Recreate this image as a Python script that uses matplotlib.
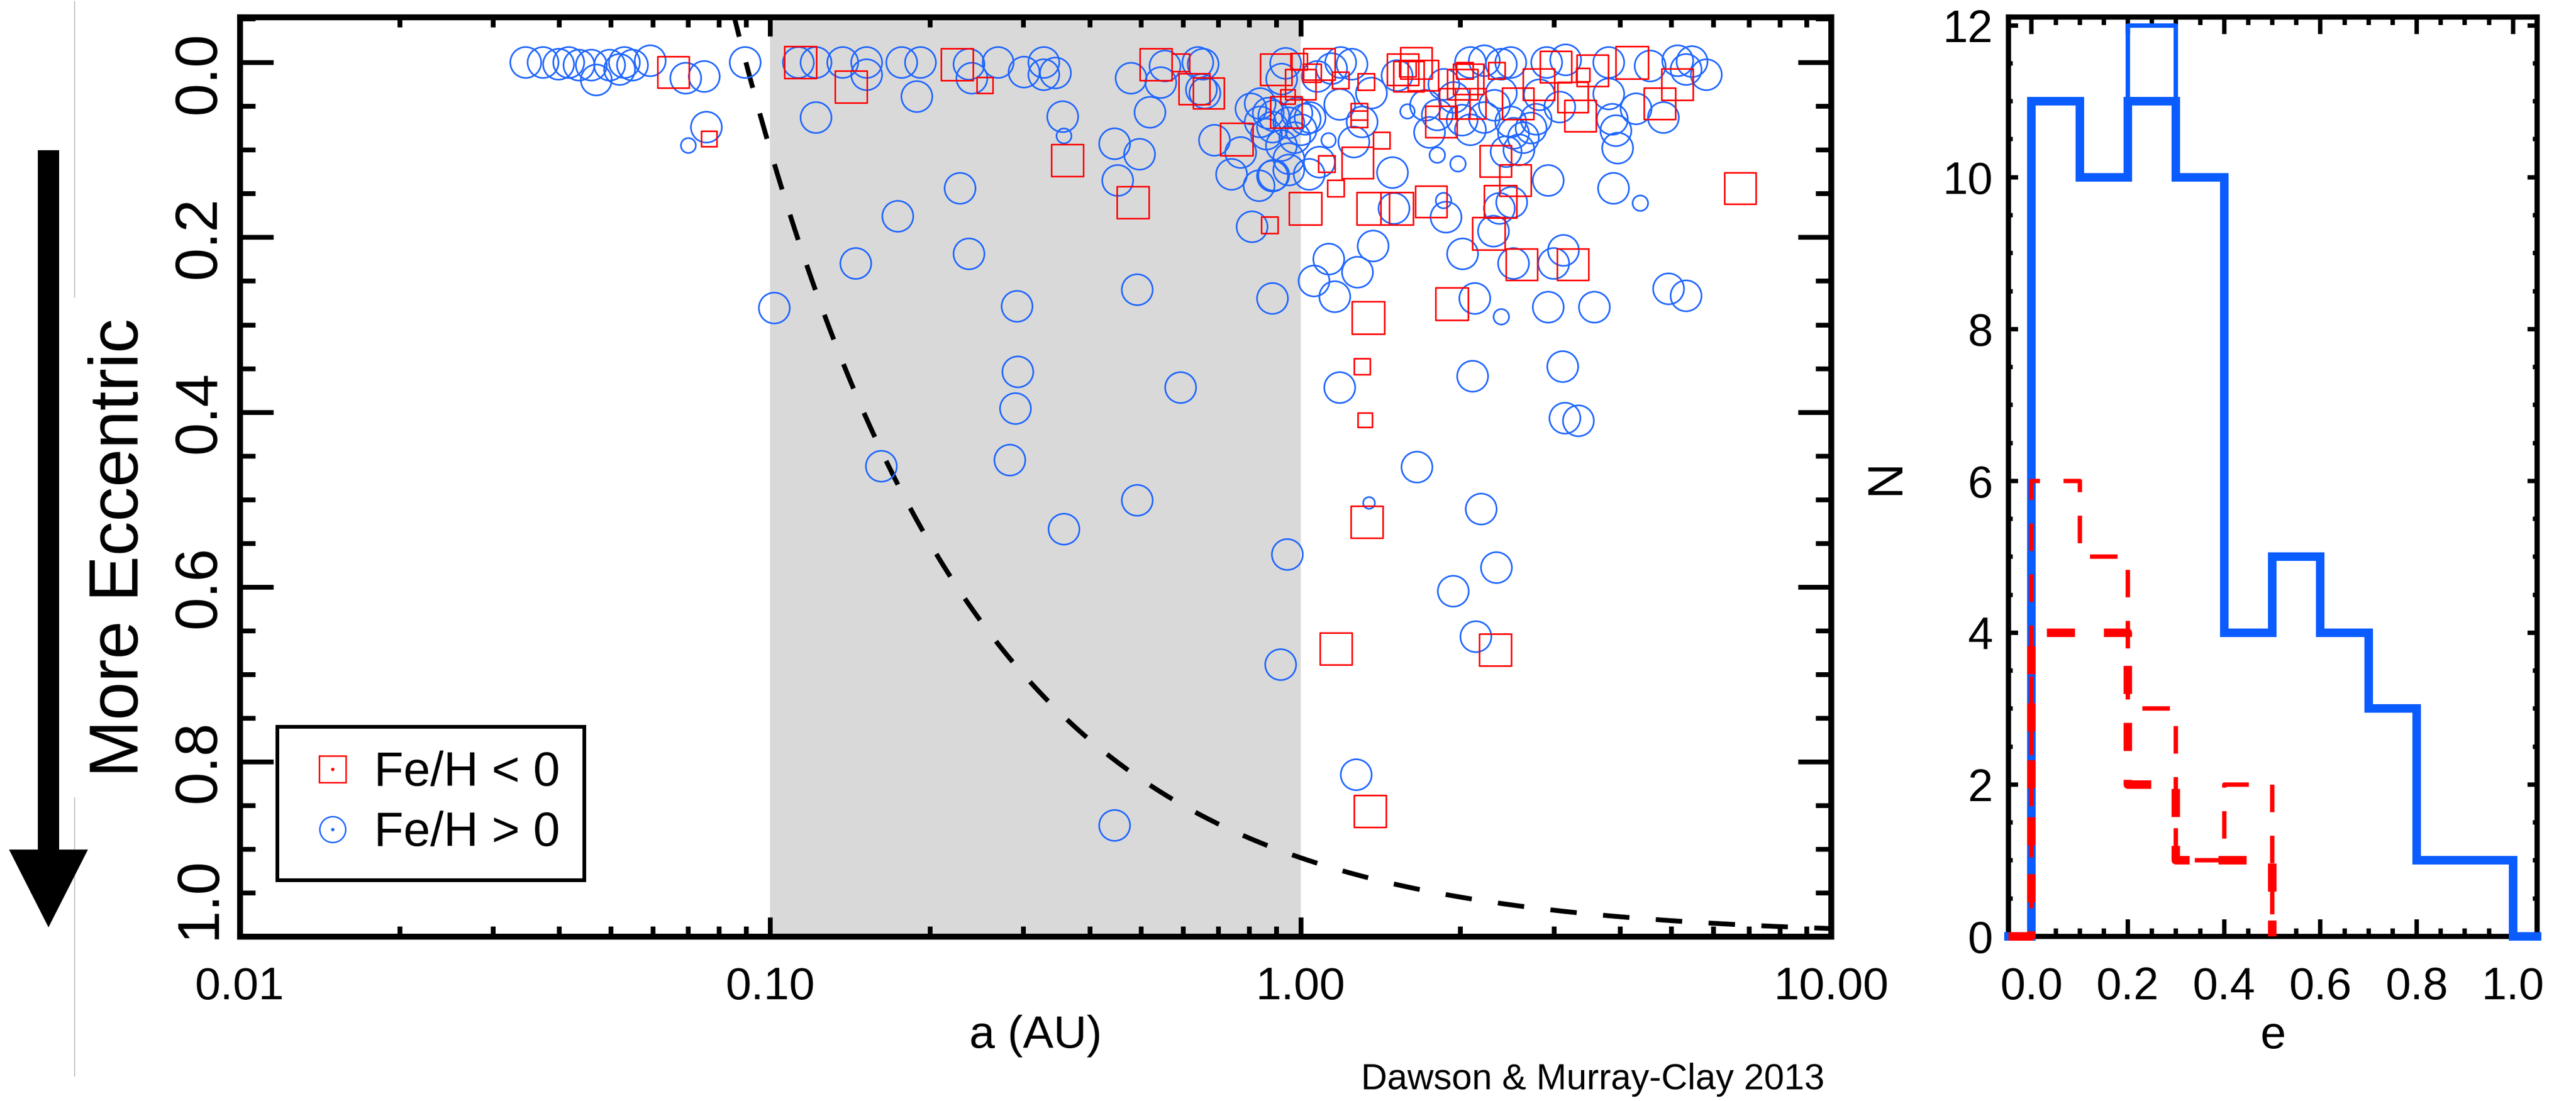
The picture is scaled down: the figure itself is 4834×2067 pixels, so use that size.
import numpy as np
import matplotlib
matplotlib.use("Agg")
import matplotlib.pyplot as plt
from matplotlib.lines import Line2D
from matplotlib.patches import FancyArrow
from matplotlib.ticker import (FixedLocator, FixedFormatter, LogLocator,
                               NullFormatter, MultipleLocator, FormatStrFormatter)

plt.rcParams['font.family'] = ['Liberation Sans', 'DejaVu Sans']

# ------------------------------------------------------------
# data : Fe/H > 0 (blue circles)  -> a [AU], e
# ------------------------------------------------------------
a_hi = [0.0346, 0.0373, 0.0399, 0.0417, 0.0436, 0.0460, 0.0470, 0.0498, 0.0520, 0.0531,
        0.0550, 0.0594, 0.0693, 0.0751, 0.0758, 0.0701, 0.0897,
        0.1018, 0.113, 0.122, 0.137, 0.152, 0.152, 0.122, 0.177, 0.192, 0.189,
        0.237, 0.240, 0.269, 0.301, 0.328, 0.328, 0.345, 0.356, 0.358, 0.446,
        0.497, 0.452, 0.479, 0.555, 0.545, 0.520, 0.228, 0.174, 0.237, 0.145,
        0.292, 0.492, 0.293, 0.290, 0.594, 0.283, 0.162, 0.492, 0.358, 0.446,
        0.640, 0.650, 0.655, 0.660, 0.688, 0.771, 0.741, 0.835, 0.885, 0.950,
        0.806, 0.839, 0.869, 0.839, 0.885, 0.862, 0.937, 0.921, 0.975, 0.810,
        0.885, 0.944, 0.917, 0.890, 0.950, 0.920, 0.950, 0.890,
        0.984, 1.020, 1.002, 1.042, 1.075, 1.144, 1.250, 1.190, 1.185, 1.306,
        1.260, 1.360, 1.038, 1.085, 1.129, 1.520, 1.590, 1.720, 1.750, 1.810,
        1.980, 1.490, 1.500, 1.860, 1.880, 1.370, 1.130, 1.280, 1.060, 1.160,
        2.130, 2.390, 2.020, 2.310, 2.370, 2.440,
        2.090, 2.220, 2.390, 2.490, 1.862, 1.945, 1.810, 2.016, 2.090, 2.220,
        2.320, 2.490, 2.520, 2.390, 2.720, 2.780, 2.630, 2.580, 2.500,
        2.910, 3.160, 3.810, 3.810, 4.560, 5.140, 5.470, 5.330, 5.820, 4.830,
        4.290, 3.870, 3.930, 3.960, 3.080, 2.820, 2.930, 3.890, 4.370, 2.520,
        3.000, 3.130, 2.930, 3.580, 4.940, 5.330,
        1.185, 2.110, 3.120, 3.150, 3.340, 1.657, 1.346, 2.190, 2.340, 1.940,
        2.140, 1.273]
e_hi = [0.000, 0.000, 0.002, 0.000, 0.003, 0.003, 0.020, 0.003, 0.008, 0.000,
        0.003, -0.002, 0.018, 0.016, 0.074, 0.095, 0.000,
        0.281, 0.000, 0.000, 0.000, 0.000, 0.014, 0.063, 0.000, 0.000, 0.039,
        0.002, 0.018, 0.000, 0.011, 0.000, 0.014, 0.012, 0.062, 0.084, 0.093,
        0.105, 0.135, 0.018, 0.004, 0.023, 0.057, 0.144, 0.176, 0.219, 0.230,
        0.279, 0.260, 0.354, 0.396, 0.372, 0.455, 0.462, 0.501, 0.534, 0.873,
        0.000, 0.031, 0.002, 0.035, 0.089, 0.103, 0.128, 0.141, 0.130, 0.110,
        0.053, 0.047, 0.058, 0.068, 0.074, 0.082, 0.001, 0.019, 0.086, 0.188,
        0.270, 0.563, 0.689, 0.061, 0.069, 0.095, 0.123, 0.129,
        0.058, 0.065, 0.077, 0.063, 0.016, 0.007, 0.002, 0.000, 0.048, 0.068,
        0.091, 0.035, 0.128, 0.114, 0.089, 0.015, 0.056, 0.049, 0.080, 0.106,
        0.116, 0.126, 0.167, 0.158, 0.177, 0.210, 0.225, 0.240, 0.250, 0.268,
        0.270, 0.291, 0.219, 0.193, 0.167, 0.102,
        0.000, -0.002, 0.002, 0.000, 0.025, 0.040, 0.060, 0.066, 0.077, 0.063,
        0.049, 0.068, 0.081, 0.035, 0.075, 0.065, 0.086, 0.100, 0.160,
        0.000, -0.003, 0.000, 0.036, 0.004, -0.002, -0.001, 0.008, 0.014, 0.063,
        0.053, 0.065, 0.078, 0.098, 0.051, 0.037, 0.135, 0.144, 0.161, 0.230,
        0.230, 0.215, 0.280, 0.280, 0.259, 0.267,
        0.372, 0.359, 0.348, 0.407, 0.410, 0.463, 0.504, 0.511, 0.578, 0.605,
        0.657, 0.815]
# the few small blue symbols (everything else is ~58 px)
small_hi = [(0.0701, 0.095), (0.358, 0.084), (1.129, 0.089), (1.590, 0.056),
            (1.810, 0.106), (1.980, 0.116), (1.860, 0.158), (2.390, 0.291),
            (4.370, 0.161), (1.346, 0.504)]
small_hi_size = [28, 28, 27, 27, 29, 29, 29, 29, 29, 22]

# ------------------------------------------------------------
# data : Fe/H < 0 (red squares) -> a [AU], e, symbol size [px]
# ------------------------------------------------------------
a_lo = [0.0656, 0.0767, 0.114, 0.142, 0.225, 0.254, 0.363, 0.483, 0.533, 0.594,
        0.630, 0.670, 0.758, 0.875, 0.898, 0.945, 0.940, 0.993, 1.000, 1.050,
        1.085, 1.020, 1.120, 1.164, 1.190, 1.280, 1.290, 1.290, 1.330, 1.420,
        1.370, 1.520, 1.340, 1.560, 1.650, 1.600, 1.700, 1.590, 1.760, 1.840,
        1.930, 1.950, 2.020, 2.040, 2.070, 2.090, 2.260, 2.340, 2.330, 2.380,
        2.540, 2.570, 2.610, 2.810, 3.030, 3.260, 3.260, 3.370, 3.410, 3.550,
        4.210, 4.750, 5.130, 6.740, 1.306, 1.324, 1.334, 1.166, 2.330, 1.352]
e_lo = [0.011, 0.087, 0.000, 0.028, 0.002, 0.026, 0.112, 0.160, 0.002, 0.000,
        0.030, 0.035, 0.088, 0.186, 0.008, 0.039, 0.057, -0.001, 0.025, 0.012,
        0.002, 0.167, 0.116, 0.144, 0.020, 0.115, 0.056, 0.065, 0.022, 0.089,
        0.167, 0.167, 0.292, 0.008, 0.001, 0.016, 0.015, 0.007, 0.159, 0.068,
        0.276, 0.047, 0.025, 0.009, 0.019, 0.047, 0.196, 0.009, 0.113, 0.159,
        0.135, 0.047, 0.231, 0.025, 0.005, 0.040, 0.231, 0.061, 0.014, 0.009,
        0.000, 0.047, 0.025, 0.144, 0.348, 0.409, 0.526, 0.671, 0.672, 0.857]
d_lo = [59, 29, 60, 60, 60, 30, 60, 60, 60, 33,
        58, 58, 61, 31, 59, 27, 59, 31, 57, 34,
        59, 61, 31, 31, 31, 59, 31, 31, 31, 31,
        61, 61, 61, 59, 59, 57, 57, 31, 59, 59,
        61, 57, 57, 31, 57, 57, 61, 31, 59, 61,
        59, 59, 59, 59, 59, 57, 59, 59, 25, 59,
        61, 59, 59, 59, 30, 27, 60, 60, 60, 60]

# periapse of the dashed curve, a(1-e) = q
q_peri = 0.09

a_ticks = [0.01, 0.1, 1.0, 10.0]
a_tick_labels = ['0.01', '0.10', '1.00', '10.00']
e_ticks = [0.0, 0.2, 0.4, 0.6, 0.8, 1.0]

# ------------------------------------------------------------
# histogram of e (bins of 0.1)
# ------------------------------------------------------------
e_edges = [0.0, 0.1, 0.2, 0.3, 0.4, 0.5, 0.6, 0.7, 0.8, 0.9, 1.0]
n_blue_thick = [11, 10, 11, 10, 4, 5, 4, 3, 1, 1]
n_blue_thin = [11, 10, 12, 10, 4, 5, 4, 3, 1, 1]
red_edges = [0.0, 0.1, 0.2, 0.3, 0.4, 0.5]
n_red_thick = [4, 4, 2, 1, 1]
n_red_thin = [6, 5, 3, 1, 2]
h_xticks = [0.0, 0.2, 0.4, 0.6, 0.8, 1.0]
h_yticks = [0, 2, 4, 6, 8, 10, 12]

# ------------------------------------------------------------
W, H = 4834, 2067
DPI = 100
PT = 72.0 / DPI          # px -> pt
RED = '#ff0000'
BLUE = '#1f66ff'
HBLUE = '#0a5cff'

fig = plt.figure(figsize=(W / DPI, H / DPI), dpi=DPI)

# overlay in pixel coordinates for the arrow / side text
ax0 = fig.add_axes([0, 0, 1, 1])
ax0.set_xlim(0, W)
ax0.set_ylim(H, 0)
ax0.axis('off')
ax0.plot([140, 140], [3, 2020], color='#c4c4c4', lw=1.5, zorder=1)
ax0.add_patch(FancyArrow(91, 282, 0, 1741 - 282, width=40, head_width=148,
                         head_length=146, length_includes_head=True,
                         fc='black', ec='none', zorder=2))
ax0.text(226, 1028, 'More Eccentric', rotation=90, ha='center', va='center',
         fontsize=93, zorder=3,
         bbox=dict(boxstyle='square,pad=0.3', fc='white', ec='none'))

# ============================================================
# main panel : e vs a
# ============================================================
ax = fig.add_axes([450 / W, 1 - 1758 / H, (3436 - 450) / W, (1758 - 32) / H])
ax.axvspan(0.1, 1.0, color='#d9d9d9', lw=0, zorder=0)

a_curve = np.logspace(np.log10(0.085), 1.0, 400)
ax.plot(a_curve, 1 - q_peri / a_curve, color='black', lw=6.5,
        ls=(0, (5.5, 5.5)), zorder=2)

size_hi = np.full(len(a_hi), 58.0)
for (aa, ee), dd in zip(small_hi, small_hi_size):
    for i in range(len(a_hi)):
        if a_hi[i] == aa and e_hi[i] == ee:
            size_hi[i] = dd
ax.scatter(a_hi, e_hi, s=(size_hi * PT) ** 2, marker='o', facecolors='none',
           edgecolors=BLUE, linewidths=2.2, zorder=3)
ax.scatter(a_lo, e_lo, s=(np.array(d_lo) * PT) ** 2, marker='s',
           facecolors='none', edgecolors=RED, linewidths=2.2, zorder=4)

ax.set_xscale('log')
ax.set_xlim(0.01, 10)
ax.set_ylim(1.0, -0.052)

ax.xaxis.set_major_locator(FixedLocator(a_ticks))
ax.xaxis.set_major_formatter(FixedFormatter(a_tick_labels))
ax.xaxis.set_minor_locator(LogLocator(base=10, subs=np.arange(2, 10) * 1.0, numticks=20))
ax.xaxis.set_minor_formatter(NullFormatter())
ax.yaxis.set_major_locator(FixedLocator(e_ticks))
ax.yaxis.set_minor_locator(MultipleLocator(0.05))

ax.tick_params(axis='x', which='major', direction='in', length=26, width=6.5,
               top=True, bottom=True, labelsize=62, pad=40)
ax.tick_params(axis='x', which='minor', direction='in', length=14, width=6.5,
               top=True, bottom=True)
ax.tick_params(axis='y', which='major', direction='in', length=45, width=6.5,
               left=True, right=True, labelleft=False)
ax.tick_params(axis='y', which='minor', direction='in', length=21, width=6.5,
               left=True, right=True)
for sp in ax.spines.values():
    sp.set_linewidth(8)

# rotated y labels (first and last nudged like the original)
ylab_nudge = {0.0: -14, 1.0: 52}
for v in e_ticks:
    ax.annotate(f'{v:.1f}', xy=(0, v), xycoords=('axes fraction', 'data'),
                xytext=(-17, ylab_nudge.get(v, 0)), textcoords='offset points',
                rotation=90, ha='right', va='center', fontsize=80,
                annotation_clip=False)

ax.set_xlabel('a (AU)', fontsize=62, va='center')
ax.xaxis.set_label_coords(0.5, -(1945 - 1758) / 1726)

h_lo = (Line2D([], [], ls='none', marker='s', ms=36, mfc='none', mec=RED, mew=2),
        Line2D([], [], ls='none', marker='o', ms=3.5, color=RED))
h_hi = (Line2D([], [], ls='none', marker='o', ms=35, mfc='none', mec=BLUE, mew=2),
        Line2D([], [], ls='none', marker='o', ms=3.5, color=BLUE))
leg = ax.legend([h_lo, h_hi], ['Fe/H < 0', 'Fe/H > 0'], loc='upper left',
                bbox_to_anchor=(70 / 2986, 1 - (1364 - 32) / 1726),
                borderaxespad=0, fontsize=65, frameon=True, fancybox=False,
                edgecolor='black', framealpha=1, borderpad=0.5,
                handlelength=1.31, handletextpad=0.21, labelspacing=0.31)
leg.get_frame().set_linewidth(5)

# ============================================================
# histogram panel : N vs e
# ============================================================
ax2 = fig.add_axes([3769 / W, 1 - 1758 / H, (4761 - 3769) / W, (1758 - 32) / H])
x_lo, x_hi = -0.048, 1.05


def step_xy(edges, counts, x0, x1):
    # IDL-style histogram outline, running along zero out to x0 / x1
    edges = np.asarray(edges, dtype=float)
    counts = np.asarray(counts, dtype=float)
    xs = np.concatenate([[x0], np.repeat(edges, 2), [x1]])
    ys = np.concatenate([[0, 0], np.repeat(counts, 2), [0, 0]])
    return xs, ys


xs, ys = step_xy(e_edges, n_blue_thin, x_lo, x_hi)
ax2.plot(xs, ys, color=HBLUE, lw=6, clip_on=False, zorder=3)
xs, ys = step_xy(e_edges, n_blue_thick, x_lo, x_hi)
ax2.plot(xs, ys, color=HBLUE, lw=11.5, clip_on=False, zorder=3,
         solid_joinstyle='miter')
xs, ys = step_xy(red_edges, n_red_thick, x_lo, red_edges[-1])
ax2.plot(xs, ys, color=RED, lw=11.5, ls=(0, (3.3, 3.4)), clip_on=False, zorder=4)
xs, ys = step_xy(red_edges, n_red_thin, x_lo, red_edges[-1])
ax2.plot(xs, ys, color=RED, lw=6, ls=(0, (6.2, 5.3)), clip_on=False, zorder=4)

ax2.set_xlim(x_lo, x_hi)
ax2.set_ylim(0, 12.11)
ax2.xaxis.set_major_locator(FixedLocator(h_xticks))
ax2.xaxis.set_major_formatter(FormatStrFormatter('%.1f'))
ax2.xaxis.set_minor_locator(MultipleLocator(0.05))
ax2.yaxis.set_major_locator(FixedLocator(h_yticks))
ax2.yaxis.set_minor_locator(MultipleLocator(0.5))
ax2.tick_params(axis='x', which='major', direction='in', length=23, width=6,
                top=True, bottom=True, labelsize=61, pad=40)
ax2.tick_params(axis='x', which='minor', direction='in', length=11, width=6,
                top=True, bottom=True)
ax2.tick_params(axis='y', which='major', direction='in', length=13, width=6,
                left=True, right=True, labelsize=61, pad=21)
ax2.tick_params(axis='y', which='minor', direction='in', length=6, width=6,
                left=True, right=True)
for sp in ax2.spines.values():
    sp.set_linewidth(7)

ax2.set_xlabel('e', fontsize=62, va='center')
ax2.xaxis.set_label_coords(0.5, -(1946 - 1758) / 1726)
ax2.set_ylabel('N', fontsize=67, va='center', ha='center', rotation=90)
ax2.yaxis.set_label_coords((3539 - 3769) / 992, 0.5)

fig.text(2554 / W, 1 - 2027 / H, 'Dawson & Murray-Clay 2013', fontsize=49,
         ha='left', va='center')

fig.savefig('out.png', dpi=DPI)
